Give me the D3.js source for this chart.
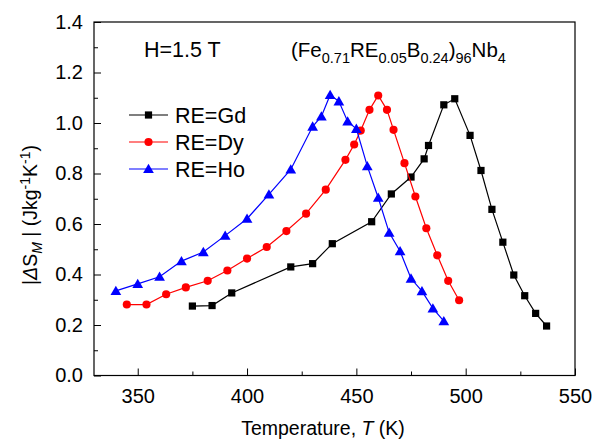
<!DOCTYPE html>
<html><head><meta charset="utf-8">
<script src="https://cdn.jsdelivr.net/npm/d3@7"></script>
<style>body{margin:0;background:#fff}svg{display:block;font-family:"Liberation Sans",Arial,sans-serif}</style>
</head><body><svg id="c" width="603" height="440"></svg>
<script>
const tGd=[375,384,393,420,430,439,457,466,475,481,483,490,495,502,507,512,517,522,527,532,537];
const vGd=[0.275,0.277,0.327,0.430,0.443,0.522,0.609,0.719,0.786,0.858,0.911,1.072,1.096,0.951,0.812,0.658,0.528,0.398,0.316,0.246,0.196];
const tDy=[345,354,363,372,382,391,400,409,418,427,436,445,449,452,456,460,464,467,472,477,482,487,492,497];
const vDy=[0.281,0.281,0.322,0.349,0.375,0.416,0.463,0.509,0.572,0.641,0.736,0.854,0.915,0.970,1.052,1.109,1.052,0.973,0.841,0.709,0.583,0.476,0.375,0.298];
const tHo=[340,350,360,370,380,390,400,410,420,430,434,438,442,446,450,455,460,465,470,475,480,485,490];
const vHo=[0.335,0.363,0.391,0.453,0.489,0.554,0.621,0.717,0.816,0.986,1.026,1.111,1.086,1.006,0.977,0.829,0.704,0.566,0.492,0.384,0.334,0.266,0.215];
const seriesNames=["RE=Gd","RE=Dy","RE=Ho"];
const xTicks=[350,400,450,500,550];
const yTicks=[0.0,0.2,0.4,0.6,0.8,1.0,1.2,1.4];

const svg=d3.select("#c");
const L=94,R=575,T=22,B=375.5;
const x=d3.scaleLinear().domain([330,550]).range([L,R]);
const y=d3.scaleLinear().domain([0,1.4]).range([B,T]);

const series=[
 {name:seriesNames[0],t:tGd,v:vGd,color:"#000000",sym:d3.symbolSquare,size:52},
 {name:seriesNames[1],t:tDy,v:vDy,color:"#ff0000",sym:d3.symbolCircle,size:52},
 {name:seriesNames[2],t:tHo,v:vHo,color:"#0000ff",sym:d3.symbolTriangle,size:50}
];

// axes (inward ticks)
const xMinor=d3.range(350,551,25).filter(d=>!xTicks.includes(d));
const yMinor=d3.range(0.1,1.4,0.2).map(d=>+d.toFixed(1));
const gx=svg.append("g").attr("transform",`translate(0,${B})`);
gx.call(d3.axisBottom(x).tickValues(xTicks).tickSize(-7).tickPadding(10).tickFormat(d3.format("d")));
const gxm=svg.append("g").attr("transform",`translate(0,${B})`);
gxm.call(d3.axisBottom(x).tickValues(xMinor).tickSize(-4).tickFormat(""));
const gy=svg.append("g").attr("transform",`translate(${L},0)`);
gy.call(d3.axisLeft(y).tickValues(yTicks).tickSize(-7).tickPadding(11).tickFormat(d3.format(".1f")));
const gym=svg.append("g").attr("transform",`translate(${L},0)`);
gym.call(d3.axisLeft(y).tickValues(yMinor).tickSize(-4).tickFormat(""));
[gx,gxm,gy,gym].forEach(g=>{
  g.select(".domain").remove();
  g.selectAll("line").attr("stroke","#000").attr("stroke-width",1);
  g.selectAll("text").attr("font-size",20).attr("fill","#000").attr("font-family","Liberation Sans, Arial, sans-serif");
});
gx.selectAll("text").attr("dy","0.85em");
svg.append("rect").attr("x",L).attr("y",T).attr("width",R-L).attr("height",B-T)
  .attr("fill","none").attr("stroke","#000").attr("stroke-width",1.2);

// series
const line=d3.line().x(d=>x(d[0])).y(d=>y(d[1]));
series.forEach(s=>{
  const pts=s.t.map((t,i)=>[t,s.v[i]]);
  svg.append("path").datum(pts).attr("d",line).attr("fill","none").attr("stroke",s.color).attr("stroke-width",1.2);
  svg.append("g").selectAll("path").data(pts).join("path")
    .attr("transform",d=>`translate(${x(d[0])},${y(d[1])+(s.sym===d3.symbolTriangle?1:0)})`)
    .attr("d",d3.symbol(s.sym,s.size)).attr("fill",s.color);
});

// legend
const legY=[115,142,169];
series.forEach((s,i)=>{
  const g=svg.append("g");
  g.append("line").attr("x1",129).attr("x2",168).attr("y1",legY[i]).attr("y2",legY[i]).attr("stroke",s.color).attr("stroke-width",1.2);
  g.append("path").attr("transform",`translate(148.5,${legY[i]+(s.sym===d3.symbolTriangle?1:0)})`).attr("d",d3.symbol(s.sym,s.size)).attr("fill",s.color);
  g.append("text").attr("x",175).attr("y",legY[i]+7.5).attr("font-size",21.5).text(s.name);
});

// annotations
svg.append("text").attr("x",144).attr("y",57).attr("font-size",21.5).text("H=1.5 T");
const tt=svg.append("text").attr("x",291).attr("y",57).attr("font-size",20.5);
const parts=[["(Fe",0],["0.71",1],["RE",0],["0.05",1],["B",0],["0.24",1],[")",0],["96",1],["Nb",0],["4",1]];
let prev=0;
parts.forEach(([s,sub])=>{
  const dy=(sub?6:0)-(prev?6:0);
  tt.append("tspan").attr("dy",dy).attr("font-size",sub?14.5:20.5).text(s);
  prev=sub;
});

// axis titles
svg.append("text").attr("x",323).attr("y",435).attr("text-anchor","middle").attr("font-size",19.5)
  .call(t=>{t.append("tspan").text("Temperature, ");t.append("tspan").attr("font-style","italic").text("T");t.append("tspan").text(" (K)");});
const yt=svg.append("text").attr("transform","translate(37,215) rotate(-90)").attr("text-anchor","middle").attr("font-size",19.5);
yt.append("tspan").text("|");
yt.append("tspan").attr("font-style","italic").text("Δ");
yt.append("tspan").text("S");
yt.append("tspan").attr("font-style","italic").attr("font-size",14).attr("dy",5).text("M");
yt.append("tspan").attr("dy",-5).text(" | (Jkg");
yt.append("tspan").attr("font-size",14).attr("dy",-7).text("-1");
yt.append("tspan").attr("dy",7).text("K");
yt.append("tspan").attr("font-size",14).attr("dy",-7).text("-1");
yt.append("tspan").attr("dy",7).text(")");
</script></body></html>
